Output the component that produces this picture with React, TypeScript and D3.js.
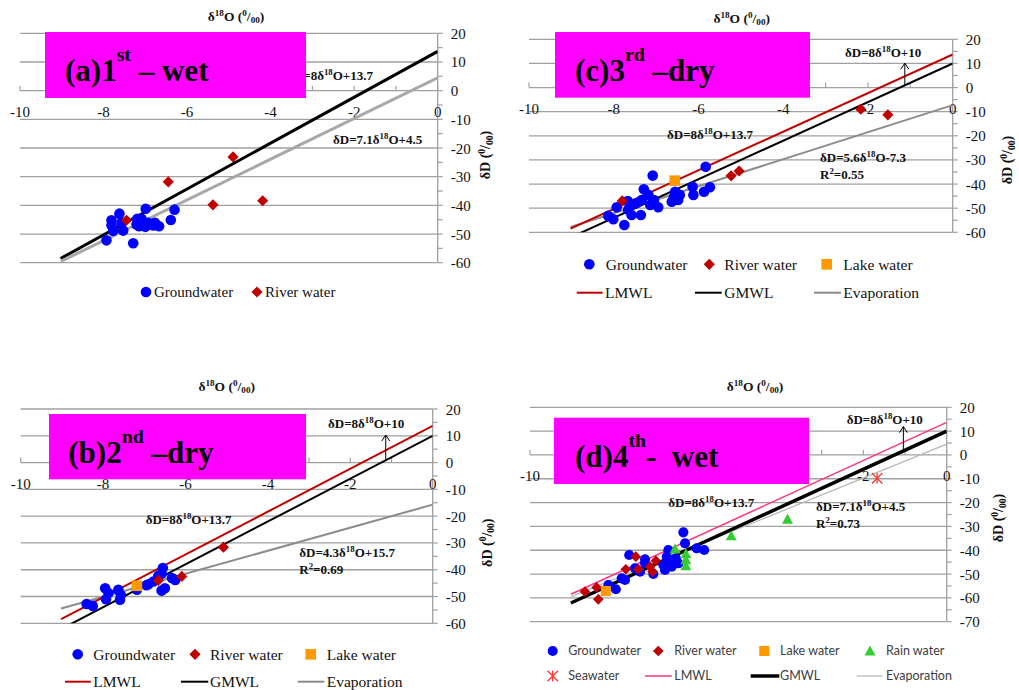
import React from 'react';
import * as d3 from 'd3';

type Pt = [number, number];

// ---------- data ----------
const xTickLabels = [-10, -8, -6, -4, -2, 0];

const groundwaterA: Pt[] = [[-7.93,-52.2],[-7.81,-45.2],[-7.81,-46.9],[-7.77,-48.9],[-7.62,-42.9],[-7.53,-48.8],[-7.57,-46.1],[-7.29,-53.2],[-7.21,-46.7],[-7.19,-44.7],[-7.09,-44.7],[-6.99,-41.2],[-7.05,-46.7],[-6.93,-46.1],[-6.81,-47.0],[-6.77,-46.1],[-6.67,-47.3],[-6.39,-45.1],[-6.30,-41.5],[-7.11,-45.9],[-7.15,-47.3],[-7.0,-47.5]];
const riverA: Pt[] = [[-7.45,-45.2],[-6.45,-31.8],[-4.90,-23.1],[-5.38,-39.8],[-4.19,-38.4]];

const groundwaterC: Pt[] = [[-8.13,-53.2],[-8.01,-54.6],[-7.93,-49.6],[-7.75,-57.0],[-7.66,-50.7],[-7.62,-49.4],[-7.58,-52.8],[-7.47,-48.0],[-7.36,-52.8],[-7.34,-46.6],[-7.29,-42.2],[-7.18,-44.5],[-7.14,-48.7],[-7.08,-36.5],[-7.05,-46.6],[-6.95,-49.6],[-6.63,-47.3],[-6.55,-43.2],[-6.48,-46.6],[-6.44,-44.5],[-6.14,-41.1],[-6.12,-44.5],[-5.87,-43.2],[-5.83,-32.8],[-5.73,-41.3],[-6.58,-45.5],[-7.67,-47.0]];
const riverC: Pt[] = [[-7.80,-47.0],[-5.23,-36.6],[-5.04,-34.6],[-2.17,-9.0],[-1.53,-11.3]];
const lakeC: Pt[] = [[-6.56,-38.6]];

const groundwaterB: Pt[] = [[-8.40,-52.8],[-8.25,-53.5],[-7.95,-46.9],[-7.93,-51.0],[-7.87,-48.7],[-7.63,-47.5],[-7.59,-51.2],[-7.57,-49.4],[-7.18,-47.5],[-6.90,-45.4],[-6.78,-44.4],[-6.55,-39.4],[-6.58,-41.5],[-6.58,-47.8],[-6.50,-46.9],[-6.33,-43.1],[-6.25,-43.8],[-6.95,-45.8],[-6.66,-42.3]];
const riverB: Pt[] = [[-6.66,-44.0],[-6.09,-42.5],[-5.08,-31.6]];
const lakeB: Pt[] = [[-7.18,-46.0]];

const groundwaterD: Pt[] = [[-8.12,-54.6],[-7.94,-56.4],[-7.80,-51.8],[-7.72,-52.5],[-7.62,-42.0],[-7.48,-47.6],[-7.36,-49.0],[-7.24,-43.8],[-7.24,-45.5],[-7.04,-50.0],[-6.80,-46.2],[-6.76,-48.3],[-6.68,-39.9],[-6.64,-44.1],[-6.60,-46.9],[-6.50,-43.4],[-6.44,-45.5],[-6.32,-32.5],[-6.28,-37.1],[-6.00,-39.2],[-5.82,-39.9],[-6.72,-42.7]];
const riverD: Pt[] = [[-8.68,-57.4],[-8.40,-55.6],[-8.36,-60.6],[-7.70,-48.0],[-7.46,-42.7],[-7.40,-48.0],[-7.12,-46.9],[-7.06,-49.0],[-6.98,-44.4]];
const lakeD: Pt[] = [[-8.18,-57.1]];
const rainD: Pt[] = [[-6.52,-39.5],[-6.26,-41.5],[-6.26,-44.0],[-6.26,-46.5],[-5.17,-34.0],[-3.82,-27.0]];
const seawaterD: Pt[] = [[-1.67,-9.8]];

// regression / meteoric lines: [slope, intercept]
const LMWL: [number, number] = [8, 13.7];
const GMWL: [number, number] = [8, 10];
const evapA: [number, number] = [7.1, 4.5];
const evapB: [number, number] = [4.3, -15.7];
const evapC: [number, number] = [5.6, -7.3];
const evapD: [number, number] = [7.1, 4.5];

// ---------- styles ----------
const SERIF = '"Liberation Serif", "Times New Roman", serif';
const SANS = 'Lato, "Liberation Sans", Arial, sans-serif';
const COLORS: Record<string, string> = {
  gw: '#0000ff', river: '#c00000', lake: '#ff9900', rain: '#33cc33', sea: '#ff3333',
};
const GRID = '#a0a0a0';

// ---------- rich text ----------
function parseRich(s: string) {
  const out: { t: string; k: 'n' | 'sup' | 'sub' }[] = [];
  const re = /([\^_])\{([^}]*)\}/g;
  let last = 0;
  let m: RegExpExecArray | null;
  while ((m = re.exec(s))) {
    if (m.index > last) out.push({ t: s.slice(last, m.index), k: 'n' });
    out.push({ t: m[2], k: m[1] === '^' ? 'sup' : 'sub' });
    last = re.lastIndex;
  }
  if (last < s.length) out.push({ t: s.slice(last), k: 'n' });
  return out;
}

function Rich({ text, fs, rise = 0.38, scale = 0.68 }: { text: string; fs: number; rise?: number; scale?: number }) {
  const parts = parseRich(text);
  let cur = 0;
  return (
    <>
      {parts.map((p, i) => {
        const target = p.k === 'sup' ? -fs * rise : p.k === 'sub' ? fs * 0.18 : 0;
        const dy = target - cur;
        cur = target;
        return (
          <tspan key={i} dy={dy} fontSize={p.k === 'n' ? fs : fs * scale}>
            {p.t}
          </tspan>
        );
      })}
    </>
  );
}

// ---------- markers ----------
function Marker({ kind, cx, cy, s = 1 }: { kind: string; cx: number; cy: number; s?: number }) {
  const c = COLORS[kind];
  if (kind === 'gw') return <circle cx={cx} cy={cy} r={5.3 * s} fill={c} />;
  if (kind === 'river') {
    const h = 5.6 * s;
    return <path d={`M${cx},${cy - h}L${cx + h},${cy}L${cx},${cy + h}L${cx - h},${cy}Z`} fill={c} />;
  }
  if (kind === 'lake') {
    const h = 5.3 * s;
    return <rect x={cx - h} y={cy - h} width={2 * h} height={2 * h} fill={c} />;
  }
  if (kind === 'rain') {
    const h = 5.8 * s;
    return <path d={`M${cx},${cy - h}L${cx + h},${cy + h * 0.8}L${cx - h},${cy + h * 0.8}Z`} fill={c} />;
  }
  if (kind === 'sea') {
    const h = 5.5 * s;
    return (
      <g stroke={c} strokeWidth={1.3}>
        <line x1={cx - h} y1={cy - h} x2={cx + h} y2={cy + h} />
        <line x1={cx - h} y1={cy + h} x2={cx + h} y2={cy - h} />
        <line x1={cx} y1={cy - h} x2={cx} y2={cy + h} />
      </g>
    );
  }
  return null;
}

// ---------- panel config ----------
type LineDef = { coef: [number, number]; x0: number; color: string; w: number };
type Series = { kind: string; data: Pt[] };
type LegendItem = { kind?: string; line?: { color: string; w: number; x1: number; x2: number }; mx?: number; tx: number; y: number; label: string };
type Label = { text: string; x: number; y: number; anchor?: string };

interface PanelCfg {
  id: string;
  left: number; right: number; top: number; bottom: number;
  yDomain: [number, number];
  lines: LineDef[];
  series: Series[];
  labels: Label[];
  arrow?: { x: number; tip: number };
  box: [number, number, number, number];
  title: { text: string; x: number; y: number };
  xTitle: [number, number];
  yTitle: [number, number];
  legendFont: string;
  legendSize: number;
  legendColor: string;
  legend: LegendItem[];
  markerScale: number;
}

const panels: PanelCfg[] = [
  {
    id: 'a', left: 20, right: 437.7, top: 33.3, bottom: 262.7, yDomain: [-60, 20],
    lines: [
      { coef: LMWL, x0: -9.03, color: '#000', w: 3 },
      { coef: evapA, x0: -9.02, color: '#a8a8a8', w: 3 },
    ],
    series: [{ kind: 'gw', data: groundwaterA }, { kind: 'river', data: riverA }],
    labels: [
      { text: 'δD=8δ^{18}O+13.7', x: 373, y: 80, anchor: 'end' },
      { text: 'δD=7.1δ^{18}O+4.5', x: 333, y: 144 },
    ],
    box: [45, 32, 306, 98],
    title: { text: '(a)1^{st} – wet', x: 65, y: 81 },
    xTitle: [236, 21], yTitle: [490, 155],
    legendFont: SERIF, legendSize: 15, legendColor: '#111',
    legend: [
      { kind: 'gw', mx: 146, tx: 154, y: 292, label: 'Groundwater' },
      { kind: 'river', mx: 257, tx: 265, y: 292, label: 'River water' },
    ],
    markerScale: 1,
  },
  {
    id: 'c', left: 529, right: 952.7, top: 39.3, bottom: 232.3, yDomain: [-60, 20],
    lines: [
      { coef: evapC, x0: -9.02, color: '#8c8c8c', w: 2 },
      { coef: GMWL, x0: -9.02, color: '#000', w: 2 },
      { coef: LMWL, x0: -9.02, color: '#c00000', w: 2 },
    ],
    series: [{ kind: 'gw', data: groundwaterC }, { kind: 'river', data: riverC }, { kind: 'lake', data: lakeC }],
    labels: [
      { text: 'δD=8δ^{18}O+10', x: 845, y: 57 },
      { text: 'δD=8δ^{18}O+13.7', x: 667, y: 139 },
      { text: 'δD=5.6δ^{18}O-7.3', x: 820, y: 162 },
      { text: 'R^{2}=0.55', x: 820, y: 179 },
    ],
    arrow: { x: -1.13, tip: 10.1 },
    box: [555, 32, 810, 97.7],
    title: { text: '(c)3^{rd} –dry', x: 575, y: 81 },
    xTitle: [741.7, 23], yTitle: [1012, 160],
    legendFont: SERIF, legendSize: 15.5, legendColor: '#111',
    legend: [
      { kind: 'gw', mx: 589.3, tx: 605.7, y: 264.3, label: 'Groundwater' },
      { kind: 'river', mx: 709.3, tx: 724.3, y: 264.3, label: 'River water' },
      { kind: 'lake', mx: 826.7, tx: 843.3, y: 264.3, label: 'Lake water' },
      { line: { color: '#c00000', w: 2, x1: 576.7, x2: 602.7 }, tx: 605, y: 292.7, label: 'LMWL' },
      { line: { color: '#000', w: 2, x1: 695, x2: 721.7 }, tx: 724.3, y: 292.7, label: 'GMWL' },
      { line: { color: '#8c8c8c', w: 2, x1: 814, x2: 841 }, tx: 843.3, y: 292.7, label: 'Evaporation' },
    ],
    markerScale: 1,
  },
  {
    id: 'b', left: 20.7, right: 432.7, top: 409, bottom: 623.3, yDomain: [-60, 20],
    lines: [
      { coef: evapB, x0: -9.02, color: '#8c8c8c', w: 2 },
      { coef: GMWL, x0: -9.02, color: '#000', w: 2 },
      { coef: LMWL, x0: -9.02, color: '#c00000', w: 2 },
    ],
    series: [{ kind: 'gw', data: groundwaterB }, { kind: 'river', data: riverB }, { kind: 'lake', data: lakeB }],
    labels: [
      { text: 'δD=8δ^{18}O+10', x: 328, y: 428 },
      { text: 'δD=8δ^{18}O+13.7', x: 145.7, y: 524 },
      { text: 'δD=4.3δ^{18}O+15.7', x: 299.3, y: 556.5 },
      { text: 'R^{2}=0.69', x: 299.3, y: 573.5 },
    ],
    arrow: { x: -1.14, tip: 10.3 },
    box: [49, 414, 306, 479.3],
    title: { text: '(b)2^{nd} –dry', x: 68.3, y: 462.7 },
    xTitle: [226.7, 391], yTitle: [491.7, 542.7],
    legendFont: SERIF, legendSize: 15.5, legendColor: '#111',
    legend: [
      { kind: 'gw', mx: 77.7, tx: 93.3, y: 654.3, label: 'Groundwater' },
      { kind: 'river', mx: 195, tx: 210, y: 654.3, label: 'River water' },
      { kind: 'lake', mx: 310.7, tx: 326.7, y: 654.3, label: 'Lake water' },
      { line: { color: '#c00000', w: 2, x1: 65, x2: 90.7 }, tx: 93.3, y: 681.7, label: 'LMWL' },
      { line: { color: '#000', w: 2, x1: 181, x2: 208.3 }, tx: 210, y: 681.7, label: 'GMWL' },
      { line: { color: '#8c8c8c', w: 2, x1: 297.7, x2: 324.3 }, tx: 326.7, y: 681.7, label: 'Evaporation' },
    ],
    markerScale: 1,
  },
  {
    id: 'd', left: 530, right: 946.7, top: 407.3, bottom: 621.7, yDomain: [-70, 20],
    lines: [
      { coef: evapD, x0: -9.02, color: '#b8b8b8', w: 1.3 },
      { coef: LMWL, x0: -9.02, color: '#ff3380', w: 1.5 },
      { coef: GMWL, x0: -9.02, color: '#000', w: 3.5 },
    ],
    series: [
      { kind: 'gw', data: groundwaterD }, { kind: 'river', data: riverD }, { kind: 'lake', data: lakeD },
      { kind: 'rain', data: rainD }, { kind: 'sea', data: seawaterD },
    ],
    labels: [
      { text: 'δD=8δ^{18}O+10', x: 846.7, y: 424 },
      { text: 'δD=8δ^{18}O+13.7', x: 668.3, y: 506.5 },
      { text: 'δD=7.1δ^{18}O+4.5', x: 816, y: 511 },
      { text: 'R^{2}=0.73', x: 816, y: 528 },
    ],
    arrow: { x: -1.04, tip: 11.9 },
    box: [554, 417.7, 809, 484],
    title: { text: '(d)4^{th}-  wet', x: 575, y: 466.7 },
    xTitle: [755, 391], yTitle: [1003.3, 518],
    legendFont: SANS, legendSize: 12.5, legendColor: '#404040',
    legend: [
      { kind: 'gw', mx: 552.7, tx: 568.3, y: 651, label: 'Groundwater' },
      { kind: 'river', mx: 658.3, tx: 674.3, y: 651, label: 'River water' },
      { kind: 'lake', mx: 764.3, tx: 780, y: 651, label: 'Lake water' },
      { kind: 'rain', mx: 870, tx: 886, y: 651, label: 'Rain water' },
      { kind: 'sea', mx: 552.7, tx: 568.3, y: 676, label: 'Seawater' },
      { line: { color: '#ff3380', w: 1.5, x1: 645, x2: 671.7 }, tx: 674.3, y: 676, label: 'LMWL' },
      { line: { color: '#000', w: 3.5, x1: 750.7, x2: 779.3 }, tx: 780, y: 676, label: 'GMWL' },
      { line: { color: '#b8b8b8', w: 1.3, x1: 856.7, x2: 882.7 }, tx: 886, y: 676, label: 'Evaporation' },
    ],
    markerScale: 0.95,
  },
];

function Panel({ cfg }: { cfg: PanelCfg }) {
  const x = d3.scaleLinear().domain([-10, 0]).range([cfg.left, cfg.right]);
  const y = d3.scaleLinear().domain(cfg.yDomain).range([cfg.bottom, cfg.top]);
  const yMajor = d3.range(cfg.yDomain[0], cfg.yDomain[1] + 1, 10);
  const yMinor = d3.range(cfg.yDomain[0], cfg.yDomain[1] + 1, 5);
  const xMinor = d3.range(-10, 1, 1);
  const y0 = y(0);
  const clipId = `clip-${cfg.id}`;
  const lineGen = d3.line<Pt>().x((d) => x(d[0])).y((d) => y(d[1]));
  const tickFs = 15;
  const [bx0, by0, bx1, by1] = cfg.box;
  // x tick labels lying under the magenta box are hidden in the reference
  const visibleXLabels = xTickLabels.filter((v) => {
    const cx = x(v);
    const cy = y0 + 21;
    const hidden = cx - 10 > bx0 && cx + 10 < bx1 && cy > by0 && cy < by1;
    return !hidden;
  });

  return (
    <g>
      <defs>
        <clipPath id={clipId}>
          <rect x={cfg.left} y={cfg.top} width={cfg.right - cfg.left} height={cfg.bottom - cfg.top} />
        </clipPath>
      </defs>
      {yMajor.map((v) => (
        <line key={`g${v}`} x1={cfg.left} x2={cfg.right} y1={y(v)} y2={y(v)} stroke={GRID} strokeWidth={1.3} />
      ))}
      <line x1={cfg.right} x2={cfg.right} y1={cfg.top} y2={cfg.bottom} stroke={GRID} strokeWidth={1.3} />
      {yMinor.map((v) => (
        <line key={`yt${v}`} x1={cfg.right} x2={cfg.right + 5} y1={y(v)} y2={y(v)} stroke={GRID} strokeWidth={1.2} />
      ))}
      {xMinor.map((v) => (
        <line key={`xt${v}`} x1={x(v)} x2={x(v)} y1={y0} y2={y0 - 5} stroke={GRID} strokeWidth={1.2} />
      ))}
      {yMajor.map((v) => (
        <text key={`yl${v}`} x={cfg.right + 13} y={y(v) + 5.5} fontFamily={SERIF} fontSize={tickFs} fill="#111">
          {v}
        </text>
      ))}
      {visibleXLabels.map((v) => (
        <text key={`xl${v}`} x={x(v)} y={y0 + 26} textAnchor="middle" fontFamily={SERIF} fontSize={tickFs} fill="#111">
          {v}
        </text>
      ))}
      <g clipPath={`url(#${clipId})`}>
        {cfg.lines.map((l, i) => {
          const pts: Pt[] = [[l.x0, l.coef[0] * l.x0 + l.coef[1]], [0, l.coef[1]]];
          return <path key={i} d={lineGen(pts) || ''} stroke={l.color} strokeWidth={l.w} fill="none" />;
        })}
      </g>
      {cfg.series.map((s) =>
        s.data.map((d, i) => <Marker key={`${s.kind}${i}`} kind={s.kind} cx={x(d[0])} cy={y(d[1])} s={cfg.markerScale} />)
      )}
      {cfg.labels.map((l, i) => (
        <text key={`lab${i}`} x={l.x} y={l.y} textAnchor={l.anchor || 'start'} fontFamily={SERIF} fontWeight="bold" fill="#111" style={{ whiteSpace: 'pre' }}>
          <Rich text={l.text} fs={13} />
        </text>
      ))}
      {cfg.arrow && (() => {
        const ax = x(cfg.arrow!.x);
        const base = y(GMWL[0] * cfg.arrow!.x + GMWL[1]);
        const tip = y(cfg.arrow!.tip);
        return (
          <g stroke="#000" strokeWidth={1} fill="none">
            <line x1={ax} x2={ax} y1={base} y2={tip} />
            <polyline points={`${ax - 4},${tip + 6} ${ax},${tip} ${ax + 4},${tip + 6}`} />
          </g>
        );
      })()}
      <rect x={bx0} y={by0} width={bx1 - bx0} height={by1 - by0} fill="#ff00ff" />
      <text x={cfg.title.x} y={cfg.title.y} fontFamily={SERIF} fontWeight="bold" fill="#000" style={{ whiteSpace: 'pre' }}>
        <Rich text={cfg.title.text} fs={31} rise={0.64} scale={0.64} />
      </text>
      <text x={cfg.xTitle[0]} y={cfg.xTitle[1]} textAnchor="middle" fontFamily={SERIF} fontWeight="bold" fill="#111" style={{ whiteSpace: 'pre' }}>
        <Rich text={'δ^{18}O (^{0}/_{00})'} fs={13.5} />
      </text>
      <text
        transform={`translate(${cfg.yTitle[0]},${cfg.yTitle[1]}) rotate(-90)`}
        textAnchor="middle"
        dy={5}
        fontFamily={SERIF}
        fontWeight="bold"
        fill="#111"
        style={{ whiteSpace: 'pre' }}
      >
        <Rich text={'δD (^{0}/_{00})'} fs={14} />
      </text>
      {cfg.legend.map((it, i) => (
        <g key={`lg${i}`}>
          {it.kind && <Marker kind={it.kind} cx={it.mx!} cy={it.y} s={cfg.markerScale} />}
          {it.line && <line x1={it.line.x1} x2={it.line.x2} y1={it.y} y2={it.y} stroke={it.line.color} strokeWidth={it.line.w} />}
          <text x={it.tx} y={it.y + cfg.legendSize * 0.34} fontFamily={cfg.legendFont} fontSize={cfg.legendSize} fill={cfg.legendColor}>
            {it.label}
          </text>
        </g>
      ))}
    </g>
  );
}

export default function App() {
  return (
    <svg width={1019} height={690} style={{ position: 'absolute', left: 0, top: 0, background: '#fff' }}>
      <rect x={0} y={0} width={1019} height={690} fill="#fff" />
      {panels.map((p) => (
        <Panel key={p.id} cfg={p} />
      ))}
    </svg>
  );
}
